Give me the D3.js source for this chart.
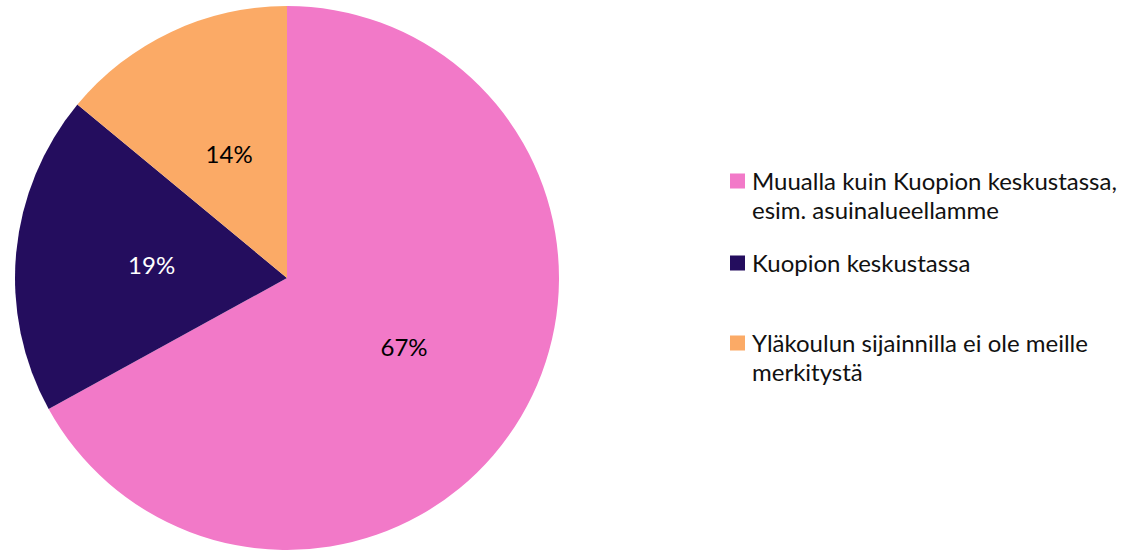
<!DOCTYPE html>
<html>
<head>
<meta charset="utf-8">
<script src="https://cdn.jsdelivr.net/npm/d3@7"></script>
<style>
  html, body { margin: 0; padding: 0; background: #fff; }
  svg { display: block; }
</style>
</head>
<body>
<div id="chart"></div>
<script>
// Chart data
const categories = [
  "Muualla kuin Kuopion keskustassa, esim. asuinalueellamme",
  "Kuopion keskustassa",
  "Yläkoulun sijainnilla ei ole meille merkitystä"
];
const values = [67, 19, 14];
const colors = ["#f279c8", "#240d5e", "#fbaa66"];
const labelColors = ["#000", "#fff", "#000"];
const legendLines = [
  ["Muualla kuin Kuopion keskustassa,", "esim. asuinalueellamme"],
  ["Kuopion keskustassa"],
  ["Yläkoulun sijainnilla ei ole meille", "merkitystä"]
];

const width = 1144, height = 551;
const cx = 287, cy = 278, radius = 272;
const font = "Lato, 'Open Sans', sans-serif";

const svg = d3.select("#chart")
  .append("svg")
  .attr("width", width)
  .attr("height", height);

const data = categories.map((c, i) => ({ name: c, value: values[i], i: i }));

const pie = d3.pie()
  .value(d => d.value)
  .sort(null);

const arc = d3.arc()
  .innerRadius(0)
  .outerRadius(radius);

const labelArc = d3.arc()
  .innerRadius(radius / 2)
  .outerRadius(radius / 2);

const g = svg.append("g")
  .attr("transform", `translate(${cx},${cy})`);

const arcs = pie(data);

g.selectAll("path")
  .data(arcs)
  .enter()
  .append("path")
  .attr("d", arc)
  .attr("fill", d => colors[d.data.i]);

// Percentage labels
g.selectAll("text.pct")
  .data(arcs)
  .enter()
  .append("text")
  .attr("class", "pct")
  .attr("transform", d => `translate(${labelArc.centroid(d)})`)
  .attr("text-anchor", "middle")
  .attr("dy", "0.35em")
  .style("font-family", font)
  .style("font-size", "24px")
  .attr("fill", d => labelColors[d.data.i])
  .text(d => d.data.value + "%");

// Legend
const legendY = [181, 263, 343];
const legend = svg.append("g");

legendLines.forEach((lines, i) => {
  const item = legend.append("g")
    .attr("transform", `translate(730,${legendY[i]})`);
  item.append("rect")
    .attr("x", 0)
    .attr("y", -7.5)
    .attr("width", 15)
    .attr("height", 15)
    .attr("fill", colors[i]);
  lines.forEach((line, j) => {
    item.append("text")
      .attr("x", 22)
      .attr("y", 9 + j * 29)
      .style("font-family", font)
      .style("font-size", "24px")
      .attr("fill", "#111")
      .text(line);
  });
});
</script>
</body>
</html>
